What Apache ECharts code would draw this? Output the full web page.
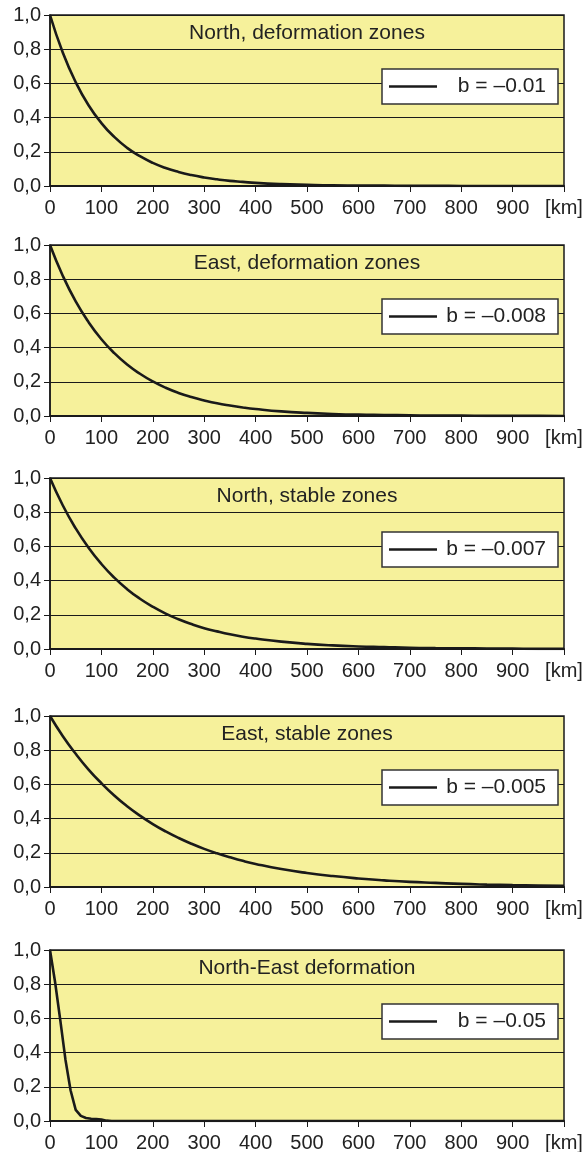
<!DOCTYPE html>
<html>
<head>
<meta charset="utf-8">
<script src="https://cdn.jsdelivr.net/npm/echarts@6/dist/echarts.min.js"></script>
<style>
html,body{margin:0;padding:0;background:#fff;}
#chart{width:585px;height:1152px;}
</style>
</head>
<body>
<div id="chart"></div>
<script>
// ---- data ----
const panelTitles = ['North, deformation zones', 'East, deformation zones', 'North, stable zones', 'East, stable zones', 'North-East deformation'];
const bLabels = ['b = \u20130.01', 'b = \u20130.008', 'b = \u20130.007', 'b = \u20130.005', 'b = \u20130.05'];
const xTickLabels = ['0', '100', '200', '300', '400', '500', '600', '700', '800', '900', '[km]'];
const yTickLabels = ['0,0', '0,2', '0,4', '0,6', '0,8', '1,0'];

const km = [0, 25, 50, 75, 100, 125, 150, 175, 200, 225, 250, 275, 300, 325, 350, 375, 400,
            450, 500, 550, 600, 650, 700, 750, 800, 850, 900, 950, 1000];
const northDeformation = [1.000, 0.779, 0.607, 0.472, 0.368, 0.287, 0.223, 0.174, 0.135, 0.105, 0.082, 0.064, 0.050, 0.039, 0.030, 0.024, 0.018,
                          0.011, 0.007, 0.004, 0.003, 0.002, 0.001, 0.001, 0.000, 0.000, 0.000, 0.000, 0.000];
const eastDeformation  = [1.000, 0.819, 0.670, 0.549, 0.449, 0.368, 0.301, 0.247, 0.202, 0.165, 0.135, 0.111, 0.091, 0.074, 0.061, 0.050, 0.041,
                          0.027, 0.018, 0.012, 0.008, 0.006, 0.004, 0.002, 0.002, 0.001, 0.001, 0.001, 0.000];
const northStable      = [1.000, 0.839, 0.705, 0.592, 0.497, 0.417, 0.350, 0.294, 0.247, 0.207, 0.174, 0.146, 0.122, 0.103, 0.086, 0.072, 0.061,
                          0.043, 0.030, 0.021, 0.015, 0.011, 0.007, 0.005, 0.004, 0.003, 0.002, 0.001, 0.001];
const eastStable       = [1.000, 0.882, 0.779, 0.687, 0.607, 0.535, 0.472, 0.417, 0.368, 0.325, 0.287, 0.253, 0.223, 0.197, 0.174, 0.153, 0.135,
                          0.105, 0.082, 0.064, 0.050, 0.039, 0.030, 0.024, 0.018, 0.014, 0.011, 0.009, 0.007];
const neKm = [0, 10, 20, 30, 40, 50, 60, 70, 80, 90, 100, 110, 120, 150, 200, 300, 400, 500, 600, 700, 800, 900, 1000];
const northEastDeformation = [1.000, 0.810, 0.590, 0.360, 0.180, 0.065, 0.030, 0.018, 0.013, 0.011, 0.009, 0.002, 0.000, 0.000, 0.000, 0.000, 0.000, 0.000, 0.000, 0.000, 0.000, 0.000, 0.000];

const seriesX = [km, km, km, km, neKm];
const seriesY = [northDeformation, eastDeformation, northStable, eastStable, northEastDeformation];
const smoothFlags = [true, true, true, true, false];

// ---- layout ----
const panelTops = [15, 245, 478, 716, 950];
const panelH = 171;
const plotLeft = 50, plotRightGap = 21;
const FONT = '"Liberation Sans", Arial, Helvetica, sans-serif';
const TXT = '#222';
const INK = '#1a1a1a';
const YELLOW = '#f6f19b';

const grids = [], xAxes = [], yAxes = [], series = [], titles = [], legends = [];
panelTops.forEach((top, i) => {
  grids.push({
    left: plotLeft, right: plotRightGap, top: top, height: panelH,
    show: true, backgroundColor: YELLOW, borderColor: INK, borderWidth: 1.5,
    containLabel: false, outerBoundsMode: 'none'
  });
  xAxes.push({
    type: 'value', gridIndex: i, min: 0, max: 1000, interval: 100,
    axisLine: { show: true, onZero: false, lineStyle: { color: INK, width: 2 } },
    axisTick: { show: true, inside: false, length: 6, lineStyle: { color: INK, width: 1 } },
    axisLabel: { show: true, margin: 12, color: TXT, fontSize: 20, fontFamily: FONT,
      formatter: v => xTickLabels[Math.round(v / 100)] },
    splitLine: { show: false }
  });
  yAxes.push({
    type: 'value', gridIndex: i, min: 0, max: 1, interval: 0.2,
    axisLine: { show: true, lineStyle: { color: INK, width: 1.5 } },
    axisTick: { show: true, inside: false, length: 6, lineStyle: { color: INK, width: 1 } },
    axisLabel: { show: true, margin: 9, color: TXT, fontSize: 20, fontFamily: FONT,
      formatter: v => yTickLabels[Math.round(v / 0.2)] },
    splitLine: { show: true, lineStyle: { color: INK, width: 1 } }
  });
  series.push({
    type: 'line', name: bLabels[i], xAxisIndex: i, yAxisIndex: i,
    data: seriesX[i].map((x, j) => [x, seriesY[i][j]]),
    showSymbol: false, symbol: 'none', smooth: smoothFlags[i],
    lineStyle: { color: INK, width: 2.6 }, itemStyle: { color: INK },
    clip: true, animation: false
  });
  titles.push({
    text: panelTitles[i], left: 307, top: top + 8, textAlign: 'center', padding: 0,
    textStyle: { color: TXT, fontSize: 21, fontWeight: 'normal', fontFamily: FONT }
  });
  legends.push({
    data: [{ name: bLabels[i], icon: 'rect' }], left: 382, top: top + 54, orient: 'horizontal',
    padding: [7, 12, 7, 7], backgroundColor: '#fff', borderColor: '#333', borderWidth: 1.5, borderRadius: 0,
    itemWidth: 48, itemHeight: 2.6, selectedMode: false,
    itemStyle: { color: INK, borderWidth: 0 },
    formatter: n => '{t|' + n + '}',
    textStyle: { color: TXT, fontSize: 21, fontFamily: FONT,
      rich: { t: { width: 104, align: 'right', fontSize: 21, fontFamily: FONT, color: TXT, height: 21, lineHeight: 21 } } }
  });
});

const chart = echarts.init(document.getElementById('chart'), null, { renderer: 'canvas' });
chart.setOption({
  animation: false,
  backgroundColor: '#fff',
  title: titles, legend: legends, grid: grids, xAxis: xAxes, yAxis: yAxes, series: series
});
</script>
</body>
</html>
